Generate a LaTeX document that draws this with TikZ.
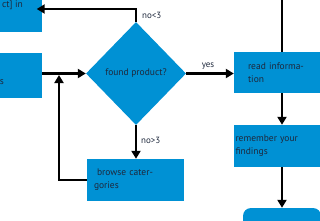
\documentclass[tikz,border=0pt]{standalone}
\usepackage{fontspec}
\setmainfont{PT Sans}
\usetikzlibrary{shapes.geometric,arrows.meta}
\definecolor{fillblue}{RGB}{0,145,212}
\definecolor{ink}{RGB}{30,40,60}
\begin{document}
\begin{tikzpicture}[x=1pt,y=-1pt,
  box/.style={fill=fillblue, draw=none, inner ysep=0pt, text=ink, align=left,
    font=\fontsize{9.5}{13}\selectfont},
  conn/.style={draw=black, line width=2.7pt},
  arr/.style={conn, -{Triangle[length=8pt,width=9pt]}},
  lbl/.style={text=ink, font=\fontsize{9}{11}\selectfont, inner sep=0pt}]
\useasboundingbox (0,0) rectangle (320,220);
\clip (0,0) rectangle (320,220);
% boxes
\node[box, minimum width=61.5pt, minimum height=46pt] (tl) at (10.75,9) {};
\node[lbl, font=\fontsize{9.5}{13}\selectfont, anchor=base east] (tltext) at (23,7.5) {ct] in};
\node[box, minimum width=62pt, minimum height=45pt] (lm) at (11,75.5) {};
\node[lbl, font=\fontsize{9.5}{13}\selectfont, anchor=base east] (lmtext) at (4,84) {s};
\node[diamond, fill=fillblue, inner sep=0pt, aspect=1, minimum width=100pt, minimum height=103pt,
  text=ink, font=\fontsize{9.5}{13}\selectfont] (d) at (136,73.5) {found product?};
\node[box, minimum width=96pt, minimum height=41pt, inner xsep=14pt, text width=68pt] (read) at (282,72.5) {read informa-\\tion};
\node[box, minimum width=96pt, minimum height=42pt, inner xsep=1.5pt, text width=93pt] (rem) at (282,146) {remember your\\findings};
\node[box, minimum width=97pt, minimum height=42pt, inner xsep=7pt, text width=83pt] (browse) at (135.5,180) {\hspace*{3pt}browse cater-\\gories};
\node[box, rounded corners=8pt, minimum width=78pt, minimum height=32pt] (next) at (282,224) {};
% connectors
\coordinate (top) at (282,-3);
\coordinate (j) at (59,75);
\draw[arr, shorten >=-5pt] (d.north) |- (tl.east);
\draw[arr] (lm.east |- d.west) -- (d.west);
\draw[arr] (browse.west) -| (j);
\draw[arr] (d.south) -- (d.south |- browse.north);
\draw[arr] (d.east) -- (d.east -| read.west);
\draw[conn] (top) -- (read.north);
\draw[arr] (read.south) -- (rem.north);
\draw[arr] (rem.south) -- (next.north);
% labels
\node[lbl, anchor=west] (no3a) at (142,15) {no<3};
\node[lbl, anchor=west] (no3b) at (141,140) {no>3};
\node[lbl, anchor=center] (yes) at (208,66) {yes};
\end{tikzpicture}
\end{document}
